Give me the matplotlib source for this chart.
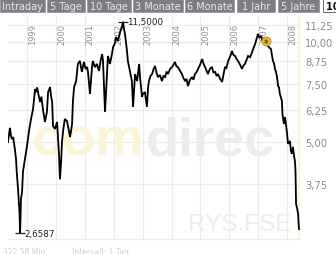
import matplotlib
matplotlib.use("Agg")
import matplotlib.pyplot as plt
from matplotlib import transforms
from matplotlib.patches import Rectangle
from matplotlib.ticker import NullLocator

# ---------------- data ----------------
dates = [
    1998.34, 1998.41, 1998.45, 1998.48, 1998.52, 1998.58, 1998.62, 1998.65, 1998.69, 1998.72,
    1998.74, 1998.76, 1998.78, 1998.79, 1998.83, 1998.86, 1998.93, 1999.00, 1999.07, 1999.14,
    1999.21, 1999.28, 1999.31, 1999.35, 1999.38, 1999.42, 1999.45, 1999.50, 1999.55, 1999.62,
    1999.69, 1999.73, 1999.80, 1999.83, 1999.87, 1999.90, 1999.97, 2000.04, 2000.07, 2000.11,
    2000.14, 2000.18, 2000.21, 2000.26, 2000.31, 2000.38, 2000.42, 2000.49, 2000.56, 2000.59,
    2000.63, 2000.70, 2000.76, 2000.83, 2000.90, 2000.97, 2001.03, 2001.08, 2001.11, 2001.18,
    2001.25, 2001.28, 2001.35, 2001.42, 2001.49, 2001.55, 2001.60, 2001.63, 2001.70, 2001.77,
    2001.80, 2001.87, 2001.94, 2001.98, 2002.04, 2002.08, 2002.15, 2002.22, 2002.27, 2002.32,
    2002.36, 2002.39, 2002.46, 2002.49, 2002.56, 2002.63, 2002.67, 2002.74, 2002.81, 2002.88,
    2002.91, 2002.98, 2003.01, 2003.08, 2003.12, 2003.15, 2003.19, 2003.22, 2003.27, 2003.33,
    2003.38, 2003.43, 2003.48, 2003.53, 2003.60, 2003.67, 2003.72, 2003.78, 2003.83, 2003.88,
    2003.95, 2004.02, 2004.07, 2004.12, 2004.17, 2004.22, 2004.29, 2004.36, 2004.41, 2004.47,
    2004.52, 2004.57, 2004.64, 2004.71, 2004.76, 2004.81, 2004.86, 2004.92, 2004.99, 2005.06,
    2005.11, 2005.16, 2005.21, 2005.26, 2005.33, 2005.40, 2005.45, 2005.51, 2005.56, 2005.61,
    2005.68, 2005.75, 2005.80, 2005.85, 2005.90, 2005.96, 2006.02, 2006.06, 2006.09, 2006.14,
    2006.20, 2006.25, 2006.30, 2006.37, 2006.44, 2006.49, 2006.54, 2006.60, 2006.65, 2006.72,
    2006.79, 2006.85, 2006.90, 2006.96, 2006.99, 2007.04, 2007.10, 2007.14, 2007.17, 2007.22,
    2007.27, 2007.31, 2007.34, 2007.39, 2007.44, 2007.47, 2007.51, 2007.55, 2007.58, 2007.62,
    2007.65, 2007.69, 2007.72, 2007.75, 2007.82, 2007.84, 2007.89, 2007.93, 2008.00, 2008.03,
    2008.10, 2008.13, 2008.17, 2008.20, 2008.24, 2008.27, 2008.29, 2008.31, 2008.35, 2008.38,
    2008.41,
]
prices = [
    5.00, 5.52, 5.20, 5.11, 5.18, 4.77, 4.45, 4.01, 3.62, 3.26,
    3.10, 2.6587, 3.05, 3.37, 3.54, 4.07, 4.45, 4.87, 5.40, 5.87,
    6.29, 7.22, 7.07, 7.30, 7.07, 6.80, 6.60, 6.85, 6.29, 5.75,
    6.16, 7.07, 7.32, 6.90, 6.60, 5.59, 5.48, 5.75, 5.22, 4.54,
    3.87, 4.36, 5.00, 5.50, 5.87, 5.79, 5.59, 5.18, 5.67, 6.65,
    7.32, 7.63, 8.59, 8.77, 8.13, 8.71, 8.30, 8.41, 8.13, 6.98,
    8.41, 8.77, 8.40, 8.59, 8.18, 8.80, 9.20, 8.77, 6.16, 8.01,
    9.08, 8.59, 9.20, 9.66, 9.90, 10.35, 10.07, 10.72, 10.95, 11.50,
    10.90, 10.57, 9.40, 8.77, 8.18, 7.63, 6.38, 8.01, 7.63, 8.59,
    7.85, 6.84, 6.98, 7.07, 6.65, 6.38, 7.32, 7.63, 7.90, 8.01,
    8.30, 8.47, 8.10, 7.85, 7.95, 7.63, 7.90, 7.85, 8.15, 8.01,
    8.30, 8.41, 8.55, 8.71, 8.45, 8.41, 8.20, 8.01, 7.80, 7.63,
    7.75, 7.37, 7.70, 7.85, 7.70, 8.01, 8.10, 8.30, 8.55, 8.89,
    8.60, 8.41, 8.20, 8.01, 8.30, 8.41, 8.10, 8.13, 7.90, 8.01,
    7.75, 7.58, 8.00, 8.41, 8.35, 8.77, 9.01, 9.20, 9.40, 9.15,
    9.08, 8.90, 8.77, 8.55, 8.30, 8.50, 8.59, 8.85, 9.08, 9.00,
    9.33, 9.66, 9.90, 10.35, 10.57, 10.30, 10.42, 10.15, 10.07, 9.85,
    10.00, 9.80, 9.73, 9.60, 9.53, 9.20, 8.77, 8.60, 8.30, 8.10,
    7.85, 7.37, 7.30, 6.98, 6.65, 6.07, 5.67, 5.95, 5.29, 4.94,
    5.04, 4.70, 4.61, 4.84, 4.55, 4.39, 4.10, 3.26, 3.15, 3.04,
    2.74,
]
max_label = "11,5000"
min_label = "2,6587"
dividend_date = 2007.27
dividend_price = 10.07
ytick_values = [3.75, 5.00, 6.25, 7.50, 8.75, 10.00, 11.25]
ytick_labels = ["3,75", "5,00", "6,25", "7,50", "8,75", "10,00", "11,25"]
year_ticks = [1999, 2000, 2001, 2002, 2003, 2004, 2005, 2006, 2007, 2008]
button_labels = ["Intraday", "5 Tage", "10 Tage", "3 Monate", "6 Monate", "1 Jahr", "5 Jahre", "10 Jahre"]
footer_left = "322,58 Mio"
footer_right = "Intervall: 1 Tag"
wm_yellow = "com"
wm_grey = "direc"
wm_symbol = "RYS.FSE"

# ---------------- figure ----------------
W, H = 336, 255
fig = plt.figure(figsize=(W / 100, H / 100), dpi=100)
fig.patch.set_facecolor("white")

L, R, T, B = 8, 300, 17, 240
ax = fig.add_axes([L / W, 1 - B / H, (R - L) / W, (B - T) / H])
ax.set_yscale("log")
ax.set_xlim(1998.343, 2008.446)
ax.set_ylim(2.558, 11.97)
ax.set_facecolor("white")

ax.set_yticks(ytick_values)
ax.set_yticklabels(ytick_labels)
ax.yaxis.set_minor_locator(NullLocator())
ax.yaxis.tick_right()
ax.tick_params(axis="y", length=0, pad=3.6, labelsize=7.2, labelcolor="#8a8a8a")
ax.set_xticks(year_ticks)
ax.tick_params(axis="x", length=0, labelbottom=False)
ax.grid(True, color="#ebebeb", lw=0.8, zorder=1)
ax.set_axisbelow(True)
for s in ["top", "left", "right"]:
    ax.spines[s].set_visible(False)
ax.spines["bottom"].set_color("#ececec")
ax.spines["bottom"].set_linewidth(0.8)

# yellow stripe at right end
ax.axvspan(2008.36, 2008.446, color="#fbf5d6", lw=0, zorder=0.5)

# watermarks
wmfont = ["Liberation Sans", "DejaVu Sans"]
px = fig.dpi_scale_trans
def ax_px(x, y):
    return ((x - L) / (R - L), (B - y) / (B - T))
ax.text(*ax_px(33, 156), wm_yellow, transform=ax.transAxes, fontsize=39, family=wmfont,
        fontweight="bold", color="#fcf4d6", va="baseline", ha="left", zorder=0.6, clip_on=True)
ax.text(*ax_px(146, 156), wm_grey, transform=ax.transAxes, fontsize=39, family=wmfont,
        fontweight="bold", color="#ececec", va="baseline", ha="left", zorder=0.6, clip_on=True)
ax.text(*ax_px(188, 231), wm_symbol, transform=ax.transAxes, fontsize=17.5, family=wmfont,
        color="#ededed", va="baseline", ha="left", zorder=0.6, clip_on=True)

# year labels
blend = transforms.blended_transform_factory(ax.transData, ax.transAxes)
off = transforms.ScaledTranslation(1.0 / 100, -7 / 100, px)
for yr in year_ticks:
    ax.text(yr, 1, str(yr), transform=blend + off, rotation=90, ha="left", va="top",
            fontsize=6.0, family="DejaVu Sans", color="#939393", zorder=2)

# price line
ax.plot(dates, prices, color="black", lw=1.3, zorder=3, solid_joinstyle="miter")

# max / min markers
imax = prices.index(max(prices))
imin = prices.index(min(prices))
for i, lab in [(imax, max_label), (imin, min_label)]:
    ax.plot(dates[i], prices[i], marker="_", markersize=7, mew=0.9, color="#222222", zorder=4)
    ax.annotate(lab, (dates[i], prices[i]), xytext=(3.3, 0), textcoords="offset points",
                ha="left", va="center", fontsize=6.3, color="#222222", zorder=4)

# dividend marker
ax.plot(dividend_date, dividend_price, marker="o", markersize=6.5, mfc="#ecb43c",
        mec="#c98a12", mew=0.6, zorder=5)
ax.text(dividend_date, dividend_price, "$", ha="center", va="center", fontsize=4.5,
        fontweight="bold", color="#5a3800", zorder=6)

# ---------------- overlay: buttons + footer ----------------
ov = fig.add_axes([0, 0, 1, 1])
ov.set_xlim(0, W)
ov.set_ylim(H, 0)
ov.axis("off")
ov.patch.set_alpha(0)
btn_x = [(0, 45), (47, 85), (87, 131), (133, 183), (185, 234), (237, 275), (278, 319), (323, 372)]
for (x0, x1), lab in zip(btn_x, button_labels):
    sel = lab == button_labels[-1]
    ov.add_patch(Rectangle((x0, 0), x1 - x0, 13, facecolor="white" if sel else "#7d7d86",
                           edgecolor="#555555" if sel else "#9a9aa0", lw=0.6, clip_on=False))
    if sel:
        ov.text(x0 + 3, 7, lab, ha="left", va="center", fontsize=7, fontweight="bold",
                color="#111111")
    else:
        ov.text((x0 + x1) / 2, 7, lab, ha="center", va="center", fontsize=7, color="#e8e8ec")

ov.text(3, 248, footer_left, ha="left", va="top", fontsize=5.5, color="#cfcfcf")
ov.text(72, 248, footer_right, ha="left", va="top", fontsize=5.5, color="#cfcfcf")

fig.savefig("out.png", dpi=100)
